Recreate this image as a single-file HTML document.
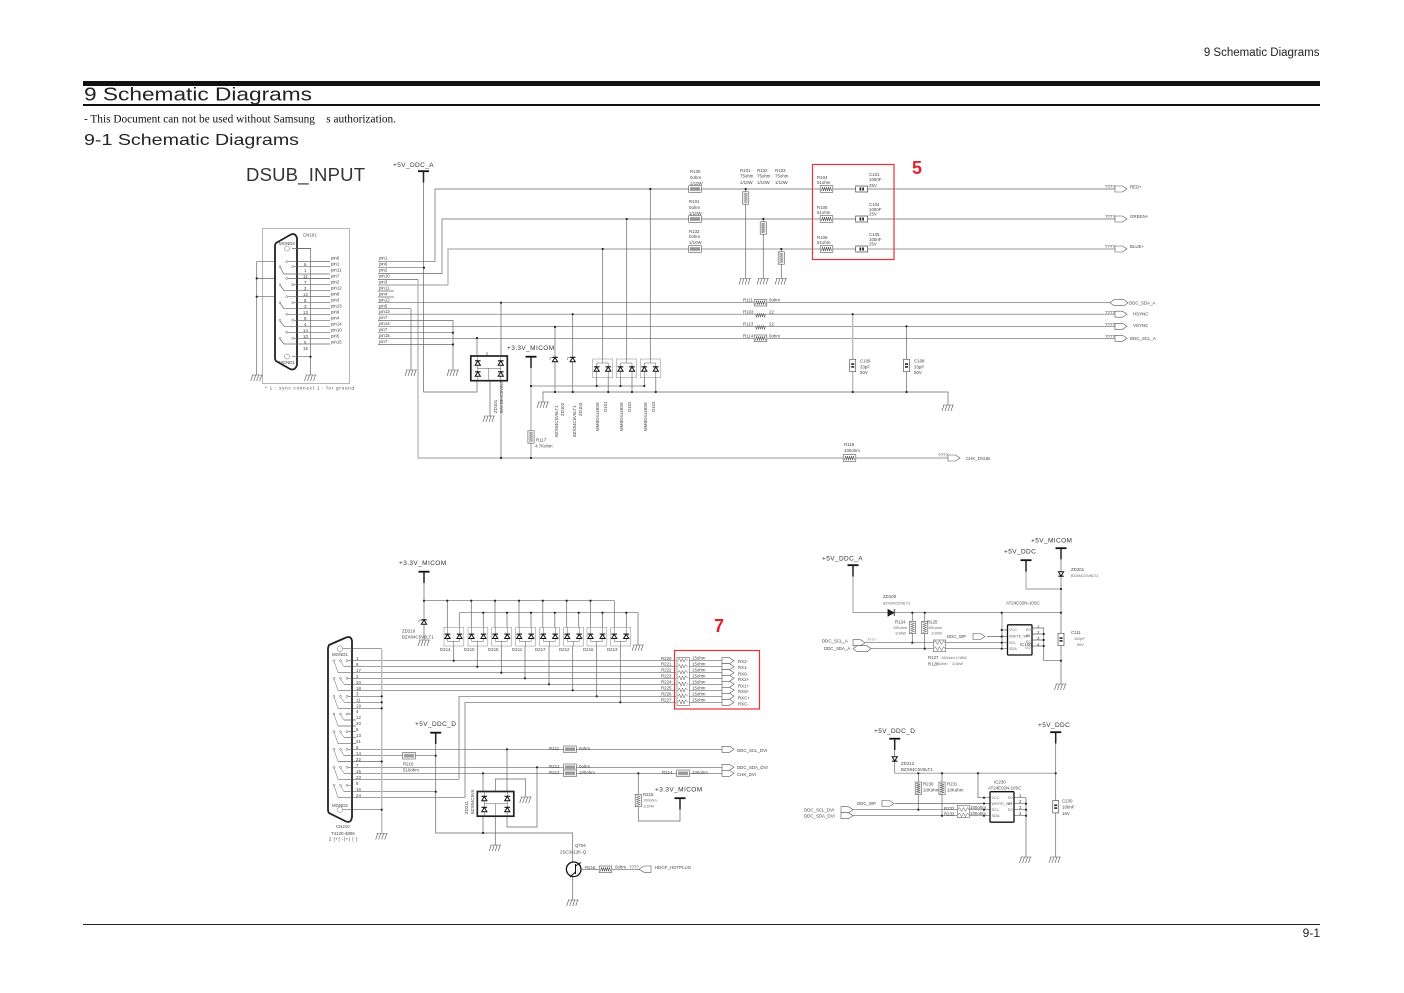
<!DOCTYPE html>
<html><head><meta charset="utf-8"><title>9 Schematic Diagrams</title>
<style>
html,body{margin:0;padding:0;background:#fff}
svg{display:block}
text{font-family:"Liberation Sans",sans-serif;fill:#444;font-size:4.4px}
.w{fill:none;stroke:#666;stroke-width:.7}
.k{fill:none;stroke:#bbb;stroke-width:1.4}
.s{fill:#555}
.m{font-size:6.5px;fill:#333;letter-spacing:.4px}
.p{font-size:7.5px;fill:#333;letter-spacing:.5px}
.n{font-size:3.8px;fill:#666}
</style></head><body>
<svg xmlns="http://www.w3.org/2000/svg" width="1404" height="993" viewBox="0 0 1404 993">
<defs>
<g id="rh"><rect x="-6.3" y="-3.3" width="12.6" height="6.6" fill="#fff" stroke="#555" stroke-width=".6"/><path d="M-5,2 L-4,-2 L-3,2 L-2,-2 L-1,2 L0,-2 L1,2 L2,-2 L3,2 L4,-2 L5,2" fill="none" stroke="#555" stroke-width=".6"/></g>
<g id="rv"><rect x="-3.1" y="-6.2" width="6.2" height="12.4" fill="#fff" stroke="#555" stroke-width=".6"/><path d="M-2,-5 L2,-4 L-2,-3 L2,-2 L-2,-1 L2,0 L-2,1 L2,2 L-2,3 L2,4 L-2,5" fill="none" stroke="#555" stroke-width=".6"/></g>
<g id="rz"><path d="M-6,0 L-5,0 L-4,3 L-3,-1 L-2,3 L-1,-1 L0,3 L1,-1 L2,3 L3,-1 L4,3 L5,0" fill="none" stroke="#666" stroke-width=".6"/></g>
<g id="ch"><rect x="-6" y="-3" width="12" height="6" fill="#fff" stroke="#444" stroke-width=".7"/><rect x="-2.2" y="-1.5" width="1.7" height="3" fill="#222"/><rect x=".5" y="-1.5" width="1.7" height="3" fill="#222"/></g>
<g id="cv"><rect x="-3" y="-6.2" width="6" height="12.4" fill="#fff" stroke="#555" stroke-width=".7"/><rect x="-1.5" y="-2.2" width="3" height="1.6" fill="#222"/><rect x="-1.5" y=".6" width="3" height="1.6" fill="#222"/></g>
<g id="gnd"><path d="M-5,0 H6 M-4,0 L-6,6 M-1,0 L-3,6 M2,0 L0,6 M5,0 L3,6" fill="none" stroke="#555" stroke-width=".6"/></g>
<g id="pw"><path d="M-5.5,.7 H5.5" stroke="#111" stroke-width="1.8"/><path d="M0,1 V12" stroke="#222" stroke-width="1.5"/></g>
<g id="dz"><path d="M-2.6,2.2 H2.6 L0,-2 Z" fill="#fff" stroke="#111" stroke-width="1"/><path d="M-2.8,-2.2 H2.8" stroke="#111" stroke-width="1.1"/></g>
<g id="ao"><path d="M0,-3 H7.5 L12,0 L7.5,3 H0 Z" fill="#fff" stroke="#555" stroke-width=".6"/></g>
<g id="ah"><path d="M-4,0 L0,-3 H10 L14,0 L10,3 H0 Z" fill="#fff" stroke="#555" stroke-width=".6"/></g>
<g id="dp"><rect x="0" y="0" width="20" height="18.7" fill="#fff" stroke="#999" stroke-width=".6"/><path d="M10,-1 V4 M4,8 V4 H15.5 V8 M4,12 V19 M15.5,12 V19" fill="none" stroke="#555" stroke-width=".5"/><use href="#dz" x="4" y="10"/><use href="#dz" x="15.5" y="10"/></g>
<g id="dq"><rect x="0" y="0" width="19.8" height="18.7" fill="#fff" stroke="#999" stroke-width=".6"/><path d="M3.500,0 V6 M15.500,0 V6 M3.500,11 V14 H15.500 V11 M9.700,14 V19" fill="none" stroke="#555" stroke-width=".5"/><use href="#dz" x="3.500" y="9"/><use href="#dz" x="15.500" y="9"/></g>
<g id="zb"><rect x="0" y="0" width="36.5" height="24.7" fill="#fff" stroke="#222" stroke-width="1.700"/><path d="M7,0 V24.700 M30,0 V24.700 M7,12.300 H30 M18,12.300 V24.700" fill="none" stroke="#555" stroke-width=".5"/><use href="#dz" x="7" y="7"/><use href="#dz" x="30" y="7"/><use href="#dz" x="7" y="18"/><use href="#dz" x="30" y="18"/></g>
</defs>
<rect width="1404" height="993" fill="#fff"/>

<!-- page furniture -->
<text x="1319.500" y="56" text-anchor="end" style="font-size:11.500px;fill:#222">9 Schematic Diagrams</text>
<rect x="83" y="81" width="1237" height="5" fill="#111"/>
<rect x="83" y="104" width="1237" height="2" fill="#111"/>
<text x="84" y="100.700" textLength="228" lengthAdjust="spacingAndGlyphs" style="font-size:18.600px;fill:#222">9 Schematic Diagrams</text>
<text x="84" y="122.700" textLength="312" lengthAdjust="spacingAndGlyphs" style="font-family:'Liberation Serif',serif;font-size:11.700px;fill:#111" xml:space="preserve">- This Document can not be used without Samsung    s authorization.</text>
<text x="84" y="145" textLength="215" lengthAdjust="spacingAndGlyphs" style="font-size:15.800px;fill:#222">9-1 Schematic Diagrams</text>
<rect x="83" y="924" width="1237" height="1" fill="#222"/>
<text x="1320" y="937" text-anchor="end" style="font-size:12px;fill:#222">9-1</text>
<text x="246" y="181" textLength="119" style="font-size:18.500px;fill:#333">DSUB_INPUT</text>

<!-- TOP: wires -->
<path class="k" d="M448,285 V249 H1115 M378,285 H448 M418,279.500 V458 H948"/>
<path class="w" d="M378,261.700 H435 V189 H1115 M378,273.500 H442 V219 H1115"/>
<path class="w" d="M423.500,180 V392 H477 V381 M378,267.700 H424"/>
<path class="w" d="M378,279.500 H418 M378,291 H394 M378,297 H394 M378,302.700 H1110 M378,308.700 H411 V370 M378,314.200 H1115 M378,320.500 H453 V370 M378,326.300 H1115 M378,332.700 H453 M378,338.300 H1115 M378,344.500 H453"/>
<path class="w" d="M501,302.700 V458 M477,338 V356 M490,381 V416 M487,356 V352"/>
<path class="w" d="M555,327 V392 M572.700,314.200 V392 M543,402 V392 H948 V405"/>
<path d="M531,386 H645" fill="none" stroke="#999" stroke-width=".9"/>
<path class="w" d="M602.700,249 V359 M626.700,219 V359 M650.300,189 V359"/>
<path class="w" d="M745.700,189 V278 M763.300,219 V278 M781.300,249 V278 M906.500,326.300 V392"/>
<path class="k" d="M852.700,314.200 V392 M531,367 V458"/>
<use href="#pw" x="423.500" y="170.500"/><use href="#pw" x="531" y="356"/>
<use href="#zb" x="470.800" y="356"/>
<use href="#dz" x="555" y="359.500"/><use href="#dz" x="572.700" y="359.500"/>
<path d="M552,357.500 H550 V360 M569.700,357.500 H567.700 V360" fill="none" stroke="#555" stroke-width=".5"/>
<use href="#dp" x="592.700" y="359"/><use href="#dp" x="616.500" y="359"/><use href="#dp" x="640.300" y="359"/>
<path class="w" d="M596.700,378 V386 M608.200,378 V392 M620.500,378 V386 M632,378 V392 M644.300,378 V386 M655.800,378 V392"/>
<use href="#gnd" x="745" y="278.500"/><use href="#gnd" x="763" y="278.500"/><use href="#gnd" x="781" y="278.500"/>
<use href="#gnd" x="411" y="370"/><use href="#gnd" x="453" y="370"/><use href="#gnd" x="543" y="402"/><use href="#gnd" x="489" y="416"/><use href="#gnd" x="948" y="405"/>
<use href="#rh" x="695" y="189"/><use href="#rh" x="695" y="219"/><use href="#rh" x="695" y="249"/>
<use href="#rv" x="745.700" y="198"/><use href="#rv" x="763.300" y="228"/><use href="#rv" x="781.300" y="258"/>
<use href="#rh" x="826.500" y="189"/><use href="#rh" x="826.500" y="219"/><use href="#rh" x="826.500" y="249"/>
<use href="#ch" x="861.700" y="189"/><use href="#ch" x="861.700" y="219"/><use href="#ch" x="861.700" y="249"/>
<use href="#rh" x="760.500" y="302.700"/><use href="#rz" x="760.500" y="314.200"/><use href="#rz" x="760.500" y="326.300"/><use href="#rh" x="760.500" y="338.300"/>
<use href="#cv" x="852.700" y="365.500"/><use href="#cv" x="906.500" y="365.500"/>
<use href="#rv" x="531" y="437"/><use href="#rh" x="849.500" y="458"/>
<use href="#ao" x="1115" y="189"/><use href="#ao" x="1115" y="219"/><use href="#ao" x="1115" y="249"/>
<use href="#ah" x="1114" y="302.700"/><use href="#ao" x="1115" y="314.200"/><use href="#ao" x="1115" y="326.300"/><use href="#ao" x="1115" y="338.300"/>
<use href="#ao" x="948" y="458"/>
<rect x="812.500" y="164.500" width="81.500" height="95" fill="none" stroke="#e8303a" stroke-width="1.200"/>
<text x="912" y="174" style="font-size:18px;font-weight:bold;fill:#e8202a">5</text>
<g fill="#222">
<circle cx="424" cy="267.700" r="1.100"/><circle cx="650.300" cy="189" r="1.100"/><circle cx="626.700" cy="219" r="1.100"/><circle cx="602.700" cy="249" r="1.100"/>
<circle cx="501" cy="302.700" r="1.100"/><circle cx="572.700" cy="314.200" r="1.100"/><circle cx="555" cy="327" r="1.100"/><circle cx="453" cy="332.700" r="1.100"/><circle cx="453" cy="344.500" r="1.100"/><circle cx="477" cy="338" r="1.100"/>
<circle cx="531" cy="386" r="1.100"/><circle cx="596.700" cy="386" r="1.100"/><circle cx="620.500" cy="386" r="1.100"/><circle cx="644.300" cy="386" r="1.100"/>
<circle cx="555" cy="392" r="1.100"/><circle cx="572.700" cy="392" r="1.100"/><circle cx="608.200" cy="392" r="1.100"/><circle cx="632" cy="392" r="1.100"/><circle cx="655.800" cy="392" r="1.100"/>
<circle cx="501" cy="458" r="1.100"/><circle cx="531" cy="458" r="1.100"/>
<circle cx="745.700" cy="189" r="1.100"/><circle cx="763.300" cy="219" r="1.100"/><circle cx="781.300" cy="249" r="1.100"/>
<circle cx="852.700" cy="314.200" r="1.100"/><circle cx="906.500" cy="326.300" r="1.100"/><circle cx="852.700" cy="392" r="1.100"/><circle cx="906.500" cy="392" r="1.100"/>
</g>
<!-- TOP: labels -->
<text class="m" x="393" y="167">+5V_DDC_A</text>
<text class="m" x="507" y="350">+3.3V_MICOM</text>
<g>
<text x="379" y="259.500">pin1</text><text x="379" y="265.500">pin6</text><text x="379" y="271.500">pin2</text><text x="379" y="277.500">pin10</text><text x="379" y="283.500">pin3</text><text x="379" y="289.500">pin11</text><text x="379" y="295.500">pin4</text><text x="379" y="301.500">pin12</text><text x="379" y="307.500">pin5</text><text x="379" y="313">pin13</text><text x="379" y="319">pin7</text><text x="379" y="325">pin14</text><text x="379" y="331">pin7</text><text x="379" y="337">pin15</text><text x="379" y="343">pin7</text>
<text x="690" y="173">R130</text><text x="690" y="179">0ohm</text><text x="690" y="185">1/10W</text>
<text x="689" y="203">R101</text><text x="689" y="209">0ohm</text><text x="689" y="215">1/10W</text>
<text x="689" y="233">R132</text><text x="689" y="238">0ohm</text><text x="689" y="244">1/10W</text>
<text x="740" y="172">R101</text><text x="740" y="177.500">75ohm</text><text x="740" y="184">1/10W</text>
<text x="757" y="172">R102</text><text x="757" y="177.500">75ohm</text><text x="757" y="184">1/10W</text>
<text x="775" y="172">R103</text><text x="775" y="177.500">75ohm</text><text x="775" y="184">1/10W</text>
<text x="817" y="179">R104</text><text x="817" y="184">51ohm</text><text x="817" y="209">R105</text><text x="817" y="214">51ohm</text><text x="817" y="239">R106</text><text x="817" y="244">51ohm</text>
<text x="869" y="176">C101</text><text x="869" y="181">100nF</text><text x="869" y="187">25V</text>
<text x="869" y="206">C104</text><text x="869" y="211">100nF</text><text x="869" y="215.500">25V</text>
<text x="869" y="236">C105</text><text x="869" y="241">100nF</text><text x="869" y="245.500">25V</text>
<text x="1105" y="188">????</text><text x="1105" y="218">????</text><text x="1105" y="248">????</text>
<text x="1105" y="314">????</text><text x="1105" y="326">????</text><text x="1105" y="338">????</text>
<text x="1130" y="188.500">RED+</text><text x="1130" y="218">GREEN+</text><text x="1130" y="248">BLUE+</text>
<text x="1129" y="304.500">DDC_SDA_A</text><text x="1133" y="315.500">HSYNC</text><text x="1133" y="327">VSYNC</text><text x="1130" y="340">DDC_SCL_A</text>
<text x="743" y="301.500">R111</text><text x="769" y="301.500">0ohm</text><text x="743" y="313.500">R103</text><text x="769" y="313.500">22</text><text x="743" y="325.500">R113</text><text x="769" y="325.500">22</text><text x="743" y="337.500">R114</text><text x="769" y="337.500">0ohm</text>
<text x="860" y="362.500">C109</text><text x="860" y="368.500">33pF</text><text x="860" y="374">50V</text>
<text x="914" y="362.500">C108</text><text x="914" y="368.500">33pF</text><text x="914" y="374">50V</text>
<text x="536" y="441.500">R117</text><text x="535" y="447.500">4.7Kohm</text>
<text x="844" y="446">R118</text><text x="844" y="452">100ohm</text>
<text x="938" y="456.500">????</text><text x="966" y="460">CHK_DSUB</text>
<text transform="translate(497,413) rotate(-90)">ZD101</text><text transform="translate(503,413) rotate(-90)">BAV99HC5V6LT</text>
<text transform="translate(558,437) rotate(-90)">BZX84C5V6LT1</text><text transform="translate(564,416) rotate(-90)">ZD102</text>
<text transform="translate(576,437) rotate(-90)">BZX84C5V6LT1</text><text transform="translate(582,416) rotate(-90)">ZD103</text>
<text transform="translate(599,431) rotate(-90)">MMBD4148SE</text><text transform="translate(607,412) rotate(-90)">D101</text>
<text transform="translate(623,431) rotate(-90)">MMBD4148SE</text><text transform="translate(631,412) rotate(-90)">D102</text>
<text transform="translate(647,431) rotate(-90)">MMBD4148SE</text><text transform="translate(655,412) rotate(-90)">D103</text>
</g>

<!-- CN101 -->
<rect x="262.500" y="228.500" width="87" height="155" fill="none" stroke="#888" stroke-width=".6"/>
<path class="w" d="M256.700,375 V261.700 H330 M256.700,278.400 H330 M256.700,296.700 H330 M310.500,375 V248.500 H292"/>
<path d="M276,243 L290,235 Q295,232 297,238 L297,365 Q295,371 290,369 L276,361 Q275,360 275,358 L275,246 Q275,244 276,243 Z" fill="#fff" stroke="#222" stroke-width="1.800"/>
<path class="w" d="M288,261.700 H330 M288,278.400 H330 M288,296.700 H330 M288,314.300 H330 M288,332.300 H330 M294,266.700 H330 M294,284.700 H330 M294,302.700 H330 M294,320.300 H330 M294,338.300 H330 M280,267 L284,274 H330 M280,285 L284,290.700 H330 M280,303 L284,308.700 H330 M280,321 L284,326.300 H330 M280,339 L284,344 H330 M292,248.500 H311 M292,356.700 H311"/>
<g fill="#fff" stroke="#666" stroke-width=".5">
<circle cx="287" cy="248.500" r="2.500"/><circle cx="287" cy="356.500" r="2.500"/>
<circle cx="286.700" cy="261.700" r="1"/><circle cx="292.700" cy="266.700" r="1"/><circle cx="280" cy="266.700" r="1"/>
<circle cx="286.700" cy="278.400" r="1"/><circle cx="292.700" cy="284.700" r="1"/><circle cx="280" cy="284.700" r="1"/>
<circle cx="286.700" cy="296.700" r="1"/><circle cx="292.700" cy="302.700" r="1"/><circle cx="280" cy="302.700" r="1"/>
<circle cx="286.700" cy="314.300" r="1"/><circle cx="292.700" cy="320.300" r="1"/><circle cx="280" cy="320.300" r="1"/>
<circle cx="286.700" cy="332.300" r="1"/><circle cx="292.700" cy="338.300" r="1"/><circle cx="280" cy="338.300" r="1"/>
</g>
<g fill="#222"><circle cx="256.700" cy="278.400" r="1.100"/><circle cx="256.700" cy="296.700" r="1.100"/><circle cx="310.500" cy="356.700" r="1.100"/></g>
<use href="#gnd" x="256.700" y="375"/><use href="#gnd" x="310.500" y="375"/>
<g>
<text x="303" y="236.500">CN101</text><text x="279" y="245">MGND2</text><text x="279" y="364">MGND1</text>
<text x="331" y="259.500">pin6</text><text x="331" y="265.500">pin1</text><text x="331" y="271.500">pin11</text><text x="331" y="277.500">pin7</text><text x="331" y="283.500">pin2</text><text x="331" y="289.500">pin12</text><text x="331" y="295.500">pin8</text><text x="331" y="301.500">pin3</text><text x="331" y="307.500">pin13</text><text x="331" y="313.500">pin9</text><text x="331" y="319.500">pin4</text><text x="331" y="325.500">pin14</text><text x="331" y="331.500">pin10</text><text x="331" y="337.500">pin5</text><text x="331" y="343.500">pin15</text>
<text x="304" y="266">6</text><text x="304" y="272">1</text><text x="303" y="278">11</text><text x="304" y="284">7</text><text x="304" y="290">2</text><text x="303" y="296">12</text><text x="304" y="302">8</text><text x="304" y="308">3</text><text x="303" y="314">13</text><text x="304" y="320">9</text><text x="304" y="326">4</text><text x="303" y="332">14</text><text x="303" y="338">10</text><text x="304" y="344">5</text><text x="303" y="350">15</text>
<text x="265" y="389.500" textLength="89">* 1 : sync connect 1 : for ground</text>
</g>

<!-- BOTTOM LEFT -->
<path class="w" d="M424,582 V640 M424,600.700 H614.300 V627.300 M459.300,612.700 H638 V645"/>
<path class="w" d="M447.300,600.700 V627.300 M471.300,600.700 V627.300 M495,600.700 V627.300 M519,600.700 V627.300 M542.800,600.700 V627.300 M566.700,600.700 V627.300 M590.500,600.700 V627.300 M459.300,612.700 V627.300 M483.300,612.700 V627.300 M507,612.700 V627.300 M531,612.700 V627.300 M554.800,612.700 V627.300 M578.700,612.700 V627.300 M602.500,612.700 V627.300 M626.300,612.700 V627.300"/>
<use href="#pw" x="424" y="571"/>
<use href="#dz" x="424" y="622"/><path d="M421,620 H419 V622.500" fill="none" stroke="#555" stroke-width=".5"/><use href="#gnd" x="424" y="640"/><use href="#gnd" x="638" y="645"/>
<use href="#dq" x="444" y="627.300"/><use href="#dq" x="468" y="627.300"/><use href="#dq" x="491.700" y="627.300"/><use href="#dq" x="515.700" y="627.300"/><use href="#dq" x="539.700" y="627.300"/><use href="#dq" x="563.700" y="627.300"/><use href="#dq" x="587" y="627.300"/><use href="#dq" x="610.700" y="627.300"/>
<path class="w" d="M453.700,646 V660.700 M477.300,646 V666.700 M501.300,646 V672.700 M525,646 V678.300 M549,646 V684.300 M572.700,646 V690.300 M596.700,646 V696.300 M620.300,646 V702.300"/>
<path class="w" d="M347,660.700 H676 M344,666.700 H676 M338,672.700 H676 M347,678.300 H676 M344,684.300 H676 M338,690.300 H676 M459,696.300 H676 M465,702.300 H676 M347,696.300 H381.700 M344,702.300 H381.700 M338,708.300 H381.700"/>
<path class="w" d="M689,660.700 H722 M689,666.700 H722 M689,672.700 H722 M689,678.300 H722 M689,684.300 H722 M689,690.300 H722 M689,696.300 H722 M689,702.300 H722"/>
<path class="w" d="M459,696.300 V779.300 H338 M465,702.300 V797.300 H338 M347,714 H351 M344,720 H356 M338,726 H356 M347,731.700 H356 M344,737.700 H356 M338,743.700 H356"/>
<path class="w" d="M347,749.300 H722 M344,755.700 H435.700 M338,761.500 H381.700 M347,767.300 H722 M344,773.300 H722 M347,785.300 H352 M344,791.700 H435.700 M507,749.300 V791.700"/>
<path class="k" d="M381.700,648.700 V833"/>
<path class="w" d="M343,648.700 H381.700 M343,809.700 H381.700"/>
<path class="w" d="M435.700,743 V833 H572.700 V862 M572.700,876 V900 M537,767.300 V827 H507 V816 M483,773.300 V833 M495.300,816 V845 M495.300,791.700 V779 H525.700 V797 M638.300,773.300 V821 H680 V808"/>
<use href="#pw" x="435.700" y="732"/><use href="#pw" x="680" y="797.500"/>
<use href="#zb" x="477.300" y="791.500"/>
<use href="#gnd" x="381.700" y="833.500"/><use href="#gnd" x="495.300" y="845"/><use href="#gnd" x="525.700" y="797"/><use href="#gnd" x="572.700" y="900"/>
<path d="M329,645 L345,638 Q351,635 352,641 L352,817 Q351,824 345,821 L329,813 Q328,812 328,810 L328,648 Z" fill="#fff" stroke="#222" stroke-width="1.800"/>
<path class="w" d="M343,648.700 H352 M343,809.700 H352 M348,660.700 H352 M344,666.700 H352 M338,672.700 H352 M348,678.300 H352 M344,684.300 H352 M338,690.300 H352 M348,696.300 H352 M344,702.300 H352 M338,708.300 H352 M348,714 H352 M344,720 H352 M338,726 H352 M348,731.700 H352 M344,737.700 H352 M338,743.700 H352 M348,749.300 H352 M344,755.700 H352 M338,761.500 H352 M348,767.300 H352 M344,773.300 H352 M338,779.300 H352 M348,785.300 H352 M344,791.700 H352 M338,797.300 H352"/>
<g fill="none" stroke="#666" stroke-width=".5">
<path d="M334,661 L338,672.700 M340.500,661 L344,666.700 M334,679 L338,690.300 M340.500,679 L344,684.300 M334,697 L338,708.300 M340.500,697 L344,702.300 M334,714.500 L338,726 M340.500,714.500 L344,720 M334,732 L338,743.700 M340.500,732 L344,737.700 M334,750 L338,761.500 M340.500,750 L344,755.700 M334,767.500 L338,779.300 M340.500,767.500 L344,773.300 M334,785.500 L338,797.300 M340.500,785.500 L344,791.700"/>
</g>
<g fill="#fff" stroke="#666" stroke-width=".5">
<circle cx="340" cy="648.700" r="2.800"/><circle cx="340" cy="809.700" r="2.800"/>
<circle cx="334" cy="660.700" r="1"/><circle cx="340.500" cy="660.700" r="1"/><circle cx="347" cy="660.700" r="1"/>
<circle cx="334" cy="678.300" r="1"/><circle cx="340.500" cy="678.300" r="1"/><circle cx="347" cy="678.300" r="1"/>
<circle cx="334" cy="696.300" r="1"/><circle cx="340.500" cy="696.300" r="1"/><circle cx="347" cy="696.300" r="1"/>
<circle cx="334" cy="714" r="1"/><circle cx="340.500" cy="714" r="1"/><circle cx="347" cy="714" r="1"/>
<circle cx="334" cy="731.700" r="1"/><circle cx="340.500" cy="731.700" r="1"/><circle cx="347" cy="731.700" r="1"/>
<circle cx="334" cy="749.300" r="1"/><circle cx="340.500" cy="749.300" r="1"/><circle cx="347" cy="749.300" r="1"/>
<circle cx="334" cy="767.300" r="1"/><circle cx="340.500" cy="767.300" r="1"/><circle cx="347" cy="767.300" r="1"/>
<circle cx="334" cy="785.300" r="1"/><circle cx="340.500" cy="785.300" r="1"/><circle cx="347" cy="785.300" r="1"/>
</g>
<use href="#rh" x="409" y="755.700"/>
<rect x="677" y="657.500" width="12.400" height="48" fill="#fff" stroke="#666" stroke-width=".6"/>
<path d="M678,660.700 L679.500,658.500 L681,662 L682.500,658.500 L684,662 L685.500,658.500 L688,660.700 M678,666.700 L679.500,664.500 L681,668 L682.500,664.500 L684,668 L685.500,664.500 L688,666.700 M678,672.700 L679.500,670.500 L681,674 L682.500,670.500 L684,674 L685.500,670.500 L688,672.700 M678,678.300 L679.500,676 L681,680 L682.500,676 L684,680 L685.500,676 L688,678.300 M678,684.300 L679.500,682 L681,686 L682.500,682 L684,686 L685.500,682 L688,684.300 M678,690.300 L679.500,688 L681,692 L682.500,688 L684,692 L685.500,688 L688,690.300 M678,696.300 L679.500,694 L681,698 L682.500,694 L684,698 L685.500,694 L688,696.300 M678,702.300 L679.500,700 L681,704 L682.500,700 L684,704 L685.500,700 L688,702.300" fill="none" stroke="#555" stroke-width=".5"/>
<use href="#ao" x="722" y="660.700"/><use href="#ao" x="722" y="666.700"/><use href="#ao" x="722" y="672.700"/><use href="#ao" x="722" y="678.300"/><use href="#ao" x="722" y="684.300"/><use href="#ao" x="722" y="690.300"/><use href="#ao" x="722" y="696.300"/><use href="#ao" x="722" y="702.300"/>
<rect x="674.500" y="650.500" width="85" height="58.500" fill="none" stroke="#e8303a" stroke-width="1.200"/>
<text x="714" y="632" style="font-size:18px;font-weight:bold;fill:#e8202a">7</text>
<use href="#rh" x="570" y="749.300"/><use href="#rh" x="570" y="767.300"/><use href="#rh" x="570" y="773.300"/><use href="#rh" x="683" y="773.300"/>
<use href="#ao" x="722" y="749.300"/><use href="#ao" x="722" y="767.300"/><use href="#ao" x="722" y="773.300"/>
<use href="#rv" x="638.300" y="800.500"/>
<circle cx="573.700" cy="869.300" r="7.300" fill="#fff" stroke="#111" stroke-width="1.300"/>
<path d="M575.500,864 V874 M575.500,866 L581,862.500 M575.500,872 L570,877" fill="none" stroke="#111" stroke-width="1"/>
<path class="w" d="M581,869.300 H599 M612,869.300 H639"/>
<use href="#rh" x="605.500" y="869.300"/>
<path d="M651,866 H644 L639,869.300 L644,872.300 H651 Z" fill="#fff" stroke="#555" stroke-width=".6"/>
<g fill="#222">
<circle cx="424" cy="600.700" r="1.100"/><circle cx="447.300" cy="600.700" r="1.100"/><circle cx="471.300" cy="600.700" r="1.100"/><circle cx="495" cy="600.700" r="1.100"/><circle cx="519" cy="600.700" r="1.100"/><circle cx="542.800" cy="600.700" r="1.100"/><circle cx="566.700" cy="600.700" r="1.100"/><circle cx="590.500" cy="600.700" r="1.100"/>
<circle cx="483.300" cy="612.700" r="1.100"/><circle cx="507" cy="612.700" r="1.100"/><circle cx="531" cy="612.700" r="1.100"/><circle cx="554.800" cy="612.700" r="1.100"/><circle cx="578.700" cy="612.700" r="1.100"/><circle cx="602.500" cy="612.700" r="1.100"/><circle cx="626.300" cy="612.700" r="1.100"/>
<circle cx="453.700" cy="660.700" r="1.100"/><circle cx="477.300" cy="666.700" r="1.100"/><circle cx="501.300" cy="672.700" r="1.100"/><circle cx="525" cy="678.300" r="1.100"/><circle cx="549" cy="684.300" r="1.100"/><circle cx="572.700" cy="690.300" r="1.100"/><circle cx="596.700" cy="696.300" r="1.100"/><circle cx="620.300" cy="702.300" r="1.100"/>
<circle cx="381.700" cy="696.300" r="1.100"/><circle cx="381.700" cy="702.300" r="1.100"/><circle cx="381.700" cy="708.300" r="1.100"/><circle cx="381.700" cy="761.500" r="1.100"/><circle cx="381.700" cy="809.700" r="1.100"/>
<circle cx="435.700" cy="755.700" r="1.100"/><circle cx="435.700" cy="791.700" r="1.100"/><circle cx="483" cy="833" r="1.100"/><circle cx="483" cy="773.300" r="1.100"/><circle cx="507" cy="749.300" r="1.100"/><circle cx="537" cy="767.300" r="1.100"/><circle cx="638.300" cy="773.300" r="1.100"/>
</g>
<g>
<text class="m" x="399" y="565">+3.3V_MICOM</text><text class="m" x="415" y="726">+5V_DDC_D</text><text class="m" x="655" y="791.500">+3.3V_MICOM</text>
<text x="402" y="632.500">ZD210</text><text x="402" y="638.500">BZX84C5V6LT1</text>
<text x="440" y="651">D214</text><text x="464" y="651">D210</text><text x="488" y="651">D215</text><text x="512" y="651">D211</text><text x="535" y="651">D217</text><text x="559" y="651">D212</text><text x="583" y="651">D216</text><text x="607" y="651">D213</text>
<text x="332" y="656">MGND1</text><text x="332" y="807">MGND2</text>
<text x="356" y="660">1</text><text x="356" y="666">9</text><text x="356" y="672">17</text><text x="356" y="678">2</text><text x="356" y="684">10</text><text x="356" y="690">18</text><text x="356" y="695.500">3</text><text x="356" y="701.500">11</text><text x="356" y="707.500">19</text><text x="356" y="713">4</text><text x="356" y="719">12</text><text x="356" y="725">20</text><text x="356" y="731">5</text><text x="356" y="737">13</text><text x="356" y="743">21</text><text x="356" y="749">6</text><text x="356" y="755">14</text><text x="356" y="761">22</text><text x="356" y="767">7</text><text x="356" y="773">15</text><text x="356" y="779">23</text><text x="356" y="785">8</text><text x="356" y="791">16</text><text x="356" y="797">24</text>
<text x="661" y="659.800">R220</text><text x="661" y="665.500">R221</text><text x="661" y="671.500">R222</text><text x="661" y="677.500">R223</text><text x="661" y="683.500">R224</text><text x="661" y="689.500">R225</text><text x="661" y="695.500">R226</text><text x="661" y="701.500">R227</text>
<text x="692" y="659.500">15ohm</text><text x="692" y="665.500">15ohm</text><text x="692" y="671.500">15ohm</text><text x="692" y="677.500">15ohm</text><text x="692" y="683.500">15ohm</text><text x="692" y="689.500">15ohm</text><text x="692" y="695.500">15ohm</text><text x="692" y="701.500">15ohm</text>
<text x="738" y="663">RX2-</text><text x="738" y="669">RX1-</text><text x="738" y="675.500">RX0-</text><text x="738" y="681">RX2+</text><text x="738" y="687.500">RX1+</text><text x="738" y="693">RX0+</text><text x="738" y="699.500">RXC+</text><text x="738" y="705.500">RXC-</text>
<text x="403" y="765.500">R210</text><text x="403" y="771.500">510ohm</text>
<text x="549" y="750">R211</text><text x="579" y="750">0ohm</text><text x="549" y="768">R212</text><text x="579" y="768">0ohm</text><text x="549" y="774">R213</text><text x="579" y="774">100ohm</text>
<text x="662" y="774">R214</text><text x="692" y="774">100ohm</text>
<text x="643" y="796">R215</text><text class="n" x="643" y="801.500">100ohm</text><text class="n" x="643" y="807.500">1/10W</text>
<text x="737" y="752">DDC_SCL_DVI</text><text x="737" y="769">DDC_SDA_DVI</text><text x="737" y="776">CHK_DVI</text>
<text transform="translate(468,814) rotate(-90)">ZD211</text><text transform="translate(474,814) rotate(-90)">BZX84C5V6</text>
<text x="575" y="847">Q704</text><text x="560" y="853.500">2SC3412K-Q</text><text x="585" y="869">R216</text><text x="615" y="868.500">0ohm</text><text x="629" y="868.500">????</text><text x="655" y="869">HDCP_HOTPLUG</text>
<text x="336" y="828">CN210</text><text x="331" y="835">T4120-4806</text><text x="329" y="840.500" textLength="28">2 [+] -(+) [ ]</text>
</g>

<!-- RIGHT TOP -->
<path class="w" d="M853,612.700 H1061 M912.300,612.700 V642.700 M924.700,612.700 V648.700 M1061,560 V684 M1061,660.700 H1043.700 V628 H1032 M1032,634 H1043.700 M1032,640 H1043.700 M1032,646 H1043.700 M1002,630 H1008 M1002,648.700 V612.700 M987,636.500 H1008 M865,642.700 H1008 M870,648.700 H1008"/>
<path class="k" d="M853,576 V612.700 M1026,570 V589 H1061 M1002,612.700 V630"/>
<use href="#pw" x="853" y="564.500"/><use href="#pw" x="1026" y="559.500"/><use href="#pw" x="1061" y="547.500"/>
<rect x="888" y="609" width="6.500" height="7.300" fill="#fff"/><path d="M888,609.500 V616 L893.800,612.700 Z M894.200,609.300 V616" fill="#222" stroke="#111" stroke-width=".8"/>
<use href="#dz" transform="translate(1061,574) rotate(180)"/>
<use href="#rv" x="912.500" y="627.500"/><use href="#rv" x="924.700" y="627.500"/>
<rect x="933.300" y="640" width="12.400" height="11.700" fill="#fff" stroke="#666" stroke-width=".6"/>
<path d="M934,642.700 L935.500,640.700 L937.500,644.500 L939.500,640.700 L941.500,644.500 L943.500,640.700 L945,642.700 M934,648.700 L935.500,646.700 L937.500,650.500 L939.500,646.700 L941.500,650.500 L943.500,646.700 L945,648.700" fill="none" stroke="#555" stroke-width=".5"/>
<rect x="1007.500" y="624.800" width="24.500" height="30.200" rx="1" fill="#fff" stroke="#111" stroke-width="1.300"/>
<use href="#ao" x="973" y="636.500"/><use href="#ao" x="853" y="642.700"/><use href="#ah" x="857" y="648.700"/>
<use href="#cv" x="1061" y="639.500"/><use href="#gnd" x="1060.500" y="684"/>
<g fill="#222"><circle cx="912.300" cy="612.700" r="1.100"/><circle cx="924.700" cy="612.700" r="1.100"/><circle cx="1001.700" cy="612.700" r="1.100"/><circle cx="1061" cy="612.700" r="1.100"/><circle cx="1061" cy="589" r="1.100"/><circle cx="912.300" cy="642.700" r="1.100"/><circle cx="924.700" cy="648.700" r="1.100"/><circle cx="1061" cy="660.700" r="1.100"/><circle cx="1001.700" cy="630" r="1.100"/><circle cx="1001.700" cy="636.500" r="1.100"/><circle cx="1001.700" cy="642.700" r="1.100"/><circle cx="1001.700" cy="648.700" r="1.100"/><circle cx="1043.700" cy="634" r="1.100"/><circle cx="1043.700" cy="640" r="1.100"/><circle cx="1043.700" cy="646" r="1.100"/></g>
<g>
<text class="m" x="822" y="560.500">+5V_DDC_A</text><text class="m" x="1004" y="553.500">+5V_DDC</text><text class="m" x="1031" y="542.500">+5V_MICOM</text>
<text x="883" y="598">ZD100</text><text class="n" x="883" y="604.500">BZX84C5V6LT1</text><text x="1071" y="571">ZD201</text><text class="n" x="1071" y="577">BZX84C5V6LT1</text>
<text x="1006" y="604.500">AT24C02N-10SC</text>
<text x="895" y="623.500">R124</text><text class="n" x="893" y="629">10Kohm</text><text class="n" x="895" y="634.500">1/16W</text>
<text x="927" y="623.500">R125</text><text class="n" x="928" y="629">10Kohm</text><text class="n" x="931" y="634.500">1/16W</text>
<text x="947" y="638">DDC_WP</text><text x="822" y="642.500">DDC_SCL_A</text><text x="824" y="650">DDC_SDA_A</text><text class="n" x="867" y="641">????</text>
<text x="928" y="659">R127</text><text class="n" x="941" y="659">100ohm 1/16W</text><text x="928" y="665.500">R128</text><text class="n" x="938" y="665">0ohm</text><text class="n" x="952" y="665">1/16W</text>
<text class="n" x="1009" y="631">VCC</text><text class="n" x="1009" y="637.500">WRITE_WP</text><text class="n" x="1009" y="644">SCL</text><text class="n" x="1009" y="650">SDA</text>
<text x="1020" y="646">IC100</text><text class="n" x="1026" y="631">E0</text><text class="n" x="1026" y="637">E1</text><text class="n" x="1026" y="643">E2</text><text class="n" x="1025" y="649">VCC</text>
<text x="1037" y="628">1</text><text x="1037" y="634">2</text><text x="1037" y="640">3</text><text x="1037" y="646">4</text>
<text x="1071" y="634">C111</text><text class="n" x="1074" y="640">100pF</text><text class="n" x="1077" y="646">50V</text>
</g>

<!-- RIGHT BOTTOM -->
<path class="w" d="M894.700,749 V773.300 M1055.700,743 V857 M918.300,773.300 V809.700 M942,773.300 V815.700 M978,773.300 V797.700 H990 M895,803.500 H990 M852,809.700 H990 M852,815.700 H990 M1014,797.700 H1026 V857 M1014,803.700 H1026 M1014,809.700 H1026 M1014,815.700 H1026"/>
<path class="k" d="M894.700,773.300 H1055.700"/>
<use href="#pw" x="894.700" y="738"/><use href="#pw" x="1055.700" y="731.500"/>
<use href="#dz" transform="translate(894.700,759) rotate(180)"/>
<use href="#rv" x="918.300" y="788.300"/><use href="#rv" x="942" y="788.300"/>
<rect x="957.300" y="805.300" width="12" height="12" fill="#fff" stroke="#666" stroke-width=".6"/>
<path d="M958,809.700 L959.500,807.500 L961.500,811.500 L963.500,807.500 L965.500,811.500 L967.500,807.500 L969,809.700 M958,815 L959.500,813 L961.500,816.700 L963.500,813 L965.500,816.700 L967.500,813 L969,815" fill="none" stroke="#555" stroke-width=".5"/>
<rect x="990" y="791.700" width="24" height="30.500" rx="1" fill="#fff" stroke="#111" stroke-width="1.300"/>
<use href="#ao" x="882" y="803.500"/><use href="#ao" x="841" y="809.700"/><use href="#ao" x="841" y="815.700"/>
<use href="#cv" x="1055.700" y="806.700"/><use href="#gnd" x="1025.500" y="857"/><use href="#gnd" x="1055" y="857"/>
<g fill="#222"><circle cx="918.300" cy="773.300" r="1.100"/><circle cx="942" cy="773.300" r="1.100"/><circle cx="978" cy="773.300" r="1.100"/><circle cx="1055.700" cy="773.300" r="1.100"/><circle cx="918.300" cy="809.700" r="1.100"/><circle cx="942" cy="815.700" r="1.100"/><circle cx="984" cy="797.700" r="1.100"/><circle cx="984" cy="803.500" r="1.100"/><circle cx="984" cy="809.700" r="1.100"/><circle cx="984" cy="815.700" r="1.100"/><circle cx="1026" cy="803.700" r="1.100"/><circle cx="1026" cy="809.700" r="1.100"/><circle cx="1026" cy="815.700" r="1.100"/></g>
<g>
<text class="m" x="874" y="733">+5V_DDC_D</text><text class="m" x="1038" y="727">+5V_DDC</text>
<text x="901" y="765">ZD212</text><text x="901" y="771">BZX84C5V6LT1</text>
<text x="923" y="785.500">R230</text><text x="923" y="791.500">10Kohm</text><text x="947" y="785.500">R231</text><text x="947" y="791.500">10Kohm</text>
<text x="994" y="783.500">IC230</text><text x="988" y="789.500">AT24E02N-10SC</text>
<text x="857" y="805">DDC_WP</text><text x="804" y="811.500">DDC_SCL_DVI</text><text x="804" y="817.500">DDC_SDA_DVI</text>
<text x="944" y="810">R232</text><text x="944" y="815.500">R233</text><text x="970" y="809">100ohm</text><text x="970" y="815">100ohm</text>
<text class="n" x="991.500" y="799">VCC</text><text class="n" x="991.500" y="805">WRITE_WP</text><text class="n" x="991.500" y="811">SCL</text><text class="n" x="991.500" y="817">SDA</text>
<text class="n" x="1008" y="799">E0</text><text class="n" x="1008" y="805">E1</text><text class="n" x="1008" y="811">E2</text>
<text x="1019" y="797">1</text><text x="1019" y="803">2</text><text x="1019" y="809">3</text><text x="1019" y="815">4</text>
<text x="1062" y="802.500">C230</text><text x="1062" y="808.500">100nF</text><text x="1062" y="815">16V</text>
</g>
</svg>
</body></html>
